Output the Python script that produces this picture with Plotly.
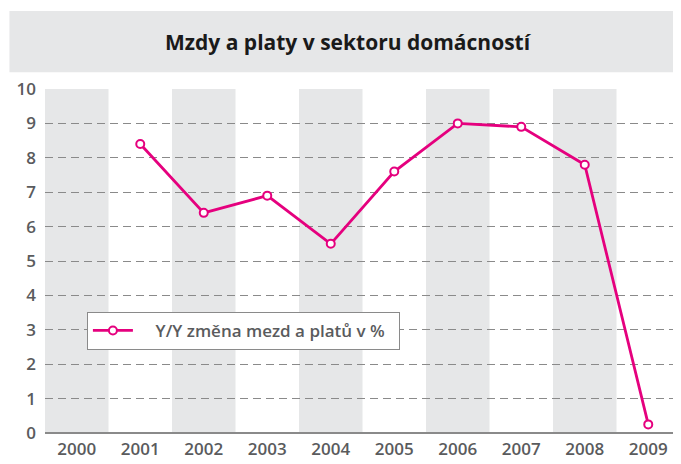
import plotly.graph_objects as go

years = [2000, 2001, 2002, 2003, 2004, 2005, 2006, 2007, 2008, 2009]
line_years = [2001, 2002, 2003, 2004, 2005, 2006, 2007, 2008, 2009]
wage_growth = [8.4, 6.4, 6.9, 5.5, 7.6, 9.0, 8.9, 7.8, 0.25]
band_years = [2000, 2002, 2004, 2006, 2008]
y_ticks = [0, 1, 2, 3, 4, 5, 6, 7, 8, 9, 10]

title = "Mzdy a platy v sektoru domácností"
series_name = "Y/Y změna mezd a platů v %"

magenta = "#e5007e"
grey_text = "#5a5b5d"

fig = go.Figure()

fig.add_trace(go.Scatter(
    x=line_years, y=wage_growth,
    name="\u00a0\u00a0\u00a0\u00a0" + series_name + "\u00a0\u00a0",
    mode="lines+markers",
    line=dict(color=magenta, width=2.8),
    marker=dict(symbol="circle", size=8, color="white",
                line=dict(color=magenta, width=2)),
))

# alternating grey column bands
for yr in band_years:
    fig.add_shape(type="rect", xref="x", yref="paper",
                  x0=yr - 0.5, x1=yr + 0.5, y0=0, y1=1,
                  fillcolor="#e6e7e8", line_width=0, layer="below")

# title band
fig.add_shape(type="rect", xref="paper", yref="paper",
              x0=-0.056, x1=1.02, y0=1.049, y1=1.227,
              fillcolor="#e6e7e8", line_width=0, layer="below")
fig.add_annotation(text="<b>" + title + "</b>", xref="paper", yref="paper",
                   x=0.478, y=1.138, xanchor="center", yanchor="middle",
                   showarrow=False,
                   font=dict(family="Open Sans", size=21, color="#1a1a1a"))

fig.update_layout(
    width=681, height=464,
    margin=dict(l=35, r=9, t=81, b=39),
    paper_bgcolor="white", plot_bgcolor="white",
    font=dict(family="Open Sans", color=grey_text, size=17, weight=600),
    showlegend=True,
    legend=dict(x=0.066, y=0.352, xanchor="left", yanchor="top",
                bgcolor="white", bordercolor="#8a8a8a", borderwidth=1,
                font=dict(size=17, color=grey_text, weight=600),
                itemwidth=40),
    xaxis=dict(range=[1999.5, 2009.5], tickvals=years,
               showgrid=False, zeroline=False, showline=False,
               ticks="", ticklabelstandoff=4, fixedrange=True),
    yaxis=dict(range=[0, 10], tickvals=y_ticks,
               showgrid=True, gridcolor="#8a8a8a", gridwidth=1,
               griddash="8px,5px", zeroline=True, zerolinecolor="#8a8a8a",
               zerolinewidth=2, showline=False, ticks="",
               ticklabelstandoff=8, fixedrange=True),
)

fig.write_html("out.html")
